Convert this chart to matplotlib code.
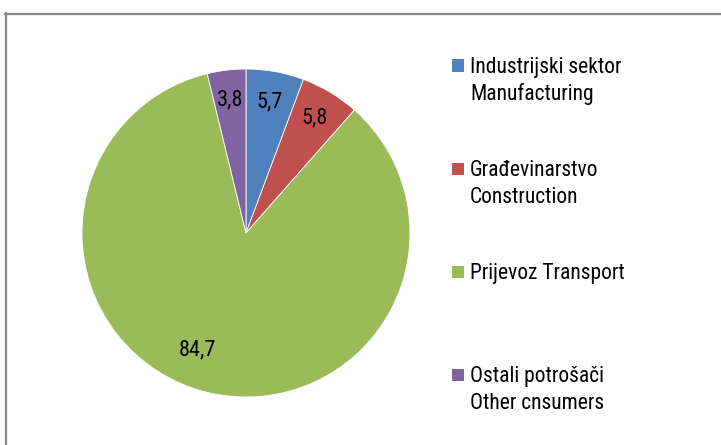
import matplotlib
matplotlib.use("Agg")
import matplotlib.pyplot as plt
from matplotlib.lines import Line2D
from matplotlib.patches import Rectangle
import numpy as np

categories = ["Industrijski sektor\nManufacturing",
              "Građevinarstvo\nConstruction",
              "Prijevoz Transport",
              "Ostali potrošači\nOther cnsumers"]
values = [5.7, 5.8, 84.7, 3.8]
value_labels = ["5,7", "5,8", "84,7", "3,8"]
colors = ["#4F81BD", "#C0504D", "#9BBB59", "#8064A2"]

plt.rcParams['font.family'] = ['Roboto Condensed', 'Liberation Sans', 'DejaVu Sans']

W, H = 721, 445
fig = plt.figure(figsize=(W / 100, H / 100), dpi=100)
fig.patch.set_facecolor("white")

# pie axes
cx, cy, r = 246, 233, 164
ax = fig.add_axes([(cx - r) / W, (H - cy - r) / H, 2 * r / W, 2 * r / H])
wedges, _ = ax.pie(values, colors=colors, startangle=90, counterclock=False,
                   wedgeprops=dict(edgecolor="white", linewidth=0.6))
ax.set_xlim(-1, 1)
ax.set_ylim(-1, 1)
ax.set_aspect("equal")

for i, (w, lab) in enumerate(zip(wedges, value_labels)):
    ang = np.deg2rad((w.theta1 + w.theta2) / 2)
    dist = 0.815
    if values[i] > 50:
        ang -= np.deg2rad(8.8)
        dist = 0.77
    ax.text(dist * np.cos(ang), dist * np.sin(ang), lab, ha="center", va="center",
            fontsize=16, color="black")

# legend
y0, step, line_px = 73, 103, 27
for i, (lab, c) in enumerate(zip(categories, colors)):
    yy = y0 + i * step
    fig.add_artist(Rectangle((452 / W, 1 - (yy - 1.5) / H), 12 / W, 12 / H,
                             transform=fig.transFigure, facecolor=c, edgecolor="none"))
    for j, line in enumerate(lab.split("\n")):
        fig.text(470 / W, 1 - (yy + j * line_px) / H, line, ha="left", va="baseline",
                 fontsize=15.5, color="black")

# chart border
bc = "#8a8a8a"
fig.add_artist(Line2D([5 / W, 1.0], [1 - 13.5 / H, 1 - 13.5 / H], transform=fig.transFigure,
                      color=bc, linewidth=1.6))
fig.add_artist(Line2D([5.5 / W, 5.5 / W], [0, 1 - 13 / H], transform=fig.transFigure,
                      color=bc, linewidth=1.6))

fig.savefig("out.png", dpi=100)
